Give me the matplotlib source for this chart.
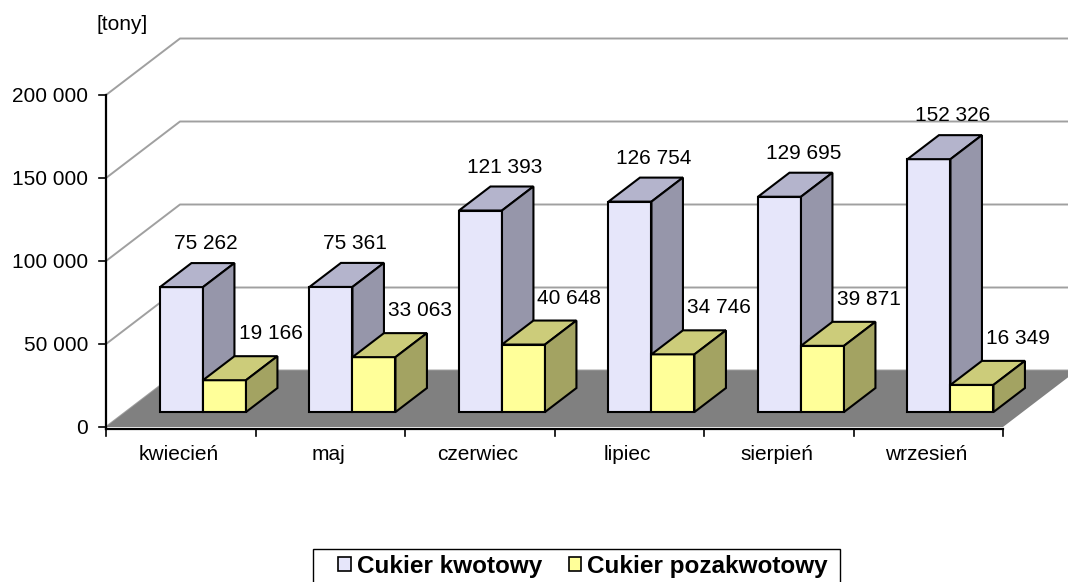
import matplotlib
matplotlib.use("Agg")
import matplotlib.pyplot as plt
from matplotlib.patches import Polygon, Patch, Rectangle

# ---------------- data ----------------
categories = ["kwiecień", "maj", "czerwiec", "lipiec", "sierpień", "wrzesień"]
series_names = ["Cukier kwotowy", "Cukier pozakwotowy"]
kwotowy = [75262, 75361, 121393, 126754, 129695, 152326]
pozakwotowy = [19166, 33063, 40648, 34746, 39871, 16349]
y_ticks = [0, 50000, 100000, 150000, 200000]
unit_label = "[tony]"

# ---------------- style ----------------
plt.rcParams['font.family'] = ['Liberation Sans', 'DejaVu Sans']
colors = {
    "kw": dict(front="#E6E6FA", top="#B4B4CC", side="#9696AA"),
    "poz": dict(front="#FFFF99", top="#CCCC7A", side="#A3A362"),
}
W, H = 1068, 582
fig = plt.figure(figsize=(W / 100, H / 100), dpi=100)

# front plane of the 3D box, in figure pixels
left_px, right_px, top_px, bottom_px = 106, 1003, 95, 427
ax = fig.add_axes([left_px / W, 1 - bottom_px / H,
                   (right_px - left_px) / W, (bottom_px - top_px) / H])
n = len(categories)
ymax = y_ticks[-1]
ax.set_xlim(0, n)
ax.set_ylim(0, ymax)
ax.axis('off')

px_x = n / (right_px - left_px)
px_y = ymax / (bottom_px - top_px)
DX = 74 * px_x        # depth offset of the back wall
DY = 56.5 * px_y


def proj(x, y, d):
    return (x + d * DX, y + d * DY)


# back wall gridlines
for v in y_ticks:
    ax.plot([0, DX, n + DX + 1], [v, v + DY, v + DY], color="#A0A0A0",
            lw=1.4, clip_on=False, zorder=1, solid_capstyle='butt')

# floor
ax.add_patch(Polygon([proj(0, 0, 0), proj(n, 0, 0), proj(n, 0, 1), proj(0, 0, 1)],
                     closed=True, facecolor="#808080", edgecolor="none",
                     clip_on=False, zorder=2))

# axes lines
xa = -2 * px_y
ax.plot([0, 0], [xa, ymax], color="black", lw=1.6, clip_on=False, zorder=3)
ax.plot([0, n], [xa, xa], color="black", lw=1.6, clip_on=False, zorder=3)
for v in y_ticks:
    ax.plot([-7 * px_x, 0], [v, v], color="black", lw=1.2, clip_on=False, zorder=3)
    ax.annotate(f"{v:,}".replace(",", " "), xy=(0, v), xytext=(-18, -7),
                textcoords="offset pixels", ha="right", va="baseline",
                fontsize=15, annotation_clip=False)
for i in range(n + 1):
    ax.plot([i, i], [xa, xa - 7 * px_y], color="black", lw=1.2, clip_on=False, zorder=3)
for i, c in enumerate(categories):
    ax.annotate(c, xy=(i + 0.5, 0), xytext=(-2, -33), textcoords="offset pixels",
                ha="center", va="baseline", fontsize=15, annotation_clip=False)

ax.annotate(unit_label, xy=(0, ymax), xytext=(-9, 65), textcoords="offset pixels",
            ha="left", va="baseline", fontsize=15, annotation_clip=False)

# bars
d0, d1 = 0.265, 0.69
bar_off = 0.230
bw = 0.2876
label_off = {"kw": (24, 38), "poz": (46, 41)}
z = 5
for i in range(n):
    for s, (key, vals) in enumerate([("kw", kwotowy), ("poz", pozakwotowy)]):
        h = vals[i]
        x0 = i + bar_off + s * bw
        x1 = x0 + bw
        col = colors[key]
        faces = [
            ([proj(x0, 0, d0), proj(x1, 0, d0), proj(x1, h, d0), proj(x0, h, d0)], col["front"]),
            ([proj(x0, h, d0), proj(x1, h, d0), proj(x1, h, d1), proj(x0, h, d1)], col["top"]),
            ([proj(x1, 0, d0), proj(x1, 0, d1), proj(x1, h, d1), proj(x1, h, d0)], col["side"]),
        ]
        for pts, fc in faces:
            ax.add_patch(Polygon(pts, closed=True, facecolor=fc, edgecolor="black",
                                 lw=1.5, joinstyle="miter", clip_on=False, zorder=z))
        z += 1
        xc, yc = proj((x0 + x1) / 2, h, d0)
        ax.annotate(f"{h:,}".replace(",", " "), xy=(xc, yc), xytext=label_off[key],
                    textcoords="offset pixels", ha="center", va="baseline",
                    fontsize=15, annotation_clip=False, zorder=100)

# legend (frame drawn separately: it is wider than the entries and runs off the bottom)
fig.add_artist(Rectangle((313 / W, -0.05), (840 - 313) / W, (H - 549) / H + 0.05,
                         transform=fig.transFigure, facecolor="white",
                         edgecolor="black", lw=1.0))
handles = [Patch(facecolor=colors["kw"]["front"], edgecolor="black", lw=1.2),
           Patch(facecolor=colors["poz"]["front"], edgecolor="black", lw=1.2)]
leg = fig.legend(handles, series_names, loc="center", ncol=2,
                 bbox_to_anchor=(583 / W, 1 - 566 / H), frameon=False,
                 prop=dict(weight="bold", size=17.5), handlelength=0.5,
                 handleheight=0.5, handletextpad=0.25, columnspacing=1.1,
                 borderpad=0, borderaxespad=0)

fig.savefig("out.png", dpi=100)
